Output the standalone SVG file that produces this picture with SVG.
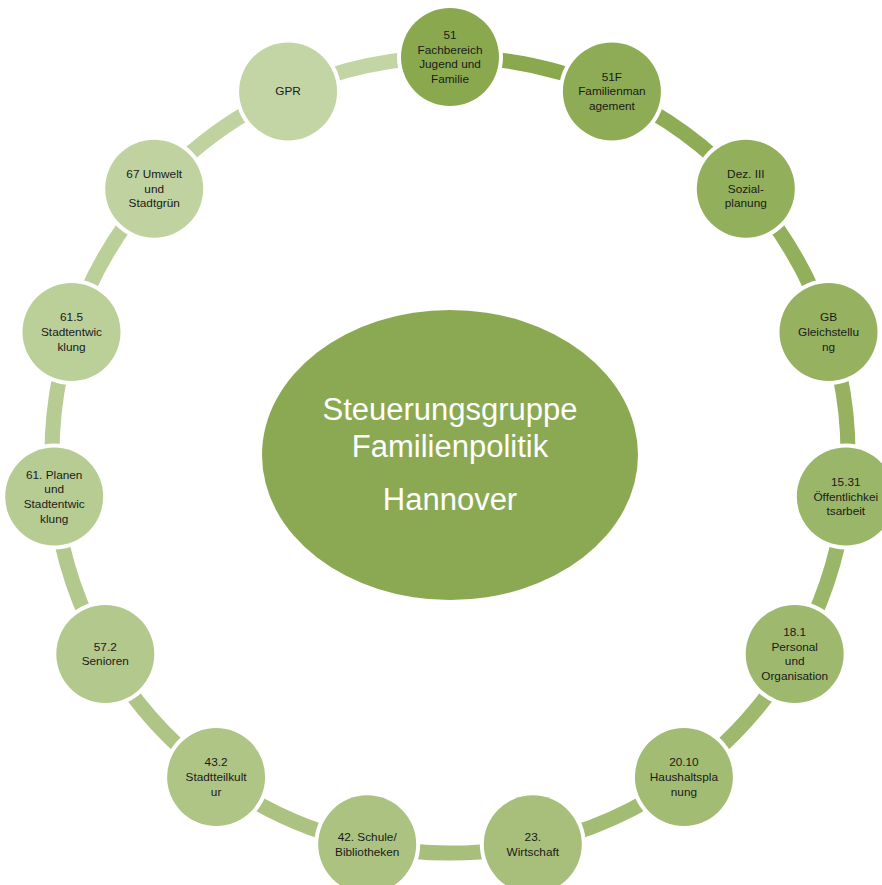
<svg xmlns="http://www.w3.org/2000/svg" width="882" height="885" viewBox="0 0 882 885">
<style>
.c{fill:none;stroke-width:15}
.halo{fill:#ffffff}
.t{font-family:"Liberation Sans",Arial,sans-serif;font-size:11.8px;fill:#1a1a1a;text-anchor:middle}
.ct{font-family:"Liberation Sans",Arial,sans-serif;font-size:31px;fill:#ffffff;text-anchor:middle}
</style>
<rect width="882" height="885" fill="#ffffff"/>
<g id="connectors">
<path class="c" stroke="#8aa94f" d="M450,57 A398,398 0 0 1 611.9,91.4"/>
<path class="c" stroke="#8eac55" d="M611.9,91.4 A398,398 0 0 1 745.8,188.7"/>
<path class="c" stroke="#92af5b" d="M745.8,188.7 A398,398 0 0 1 828.5,332"/>
<path class="c" stroke="#96b261" d="M828.5,332 A398,398 0 0 1 845.8,496.6"/>
<path class="c" stroke="#9ab668" d="M845.8,496.6 A398,398 0 0 1 794.7,654"/>
<path class="c" stroke="#9eb96e" d="M794.7,654 A398,398 0 0 1 683.9,777"/>
<path class="c" stroke="#a2bc74" d="M683.9,777 A398,398 0 0 1 532.8,844.3"/>
<path class="c" stroke="#a7bf7a" d="M532.8,844.3 A398,398 0 0 1 367.2,844.3"/>
<path class="c" stroke="#abc280" d="M367.2,844.3 A398,398 0 0 1 216.1,777"/>
<path class="c" stroke="#afc586" d="M216.1,777 A398,398 0 0 1 105.3,654"/>
<path class="c" stroke="#b3c88c" d="M105.3,654 A398,398 0 0 1 54.2,496.6"/>
<path class="c" stroke="#b7cc93" d="M54.2,496.6 A398,398 0 0 1 71.5,332"/>
<path class="c" stroke="#bbcf99" d="M71.5,332 A398,398 0 0 1 154.2,188.7"/>
<path class="c" stroke="#bfd29f" d="M154.2,188.7 A398,398 0 0 1 288.1,91.4"/>
<path class="c" stroke="#c3d5a5" d="M288.1,91.4 A398,398 0 0 1 450,57"/>
</g>
<g id="center">
<ellipse cx="450" cy="455" rx="188" ry="145" fill="#8ba952"/>
<text class="ct" x="450" y="420">Steuerungsgruppe</text>
<text class="ct" x="450" y="457">Familienpolitik</text>
<text class="ct" x="450" y="510">Hannover</text>
</g>
<g id="n51">
<circle class="halo" cx="450" cy="57" r="53"/>
<circle cx="450" cy="57" r="49" fill="#8aa94f"/>
<text class="t" x="450" y="38.95">51<tspan x="450" dy="14.7">Fachbereich</tspan><tspan x="450" dy="14.7">Jugend und</tspan><tspan x="450" dy="14.7">Familie</tspan></text>
</g>
<g id="n51F">
<circle class="halo" cx="611.9" cy="91.4" r="53"/>
<circle cx="611.9" cy="91.4" r="49" fill="#8eac55"/>
<text class="t" x="611.9" y="80.7">51F<tspan x="611.9" dy="14.7">Familienman</tspan><tspan x="611.9" dy="14.7">agement</tspan></text>
</g>
<g id="nDez">
<circle class="halo" cx="745.8" cy="188.7" r="53"/>
<circle cx="745.8" cy="188.7" r="49" fill="#92af5b"/>
<text class="t" x="745.8" y="178">Dez. III<tspan x="745.8" dy="14.7">Sozial-</tspan><tspan x="745.8" dy="14.7">planung</tspan></text>
</g>
<g id="nGB">
<circle class="halo" cx="828.5" cy="332" r="53"/>
<circle cx="828.5" cy="332" r="49" fill="#96b261"/>
<text class="t" x="828.5" y="321.3">GB<tspan x="828.5" dy="14.7">Gleichstellu</tspan><tspan x="828.5" dy="14.7">ng</tspan></text>
</g>
<g id="n1531">
<circle class="halo" cx="845.8" cy="496.6" r="53"/>
<circle cx="845.8" cy="496.6" r="49" fill="#9ab668"/>
<text class="t" x="845.8" y="485.9">15.31<tspan x="845.8" dy="14.7">Öffentlichkei</tspan><tspan x="845.8" dy="14.7">tsarbeit</tspan></text>
</g>
<g id="n181">
<circle class="halo" cx="794.7" cy="654" r="53"/>
<circle cx="794.7" cy="654" r="49" fill="#9eb96e"/>
<text class="t" x="794.7" y="635.95">18.1<tspan x="794.7" dy="14.7">Personal</tspan><tspan x="794.7" dy="14.7">und</tspan><tspan x="794.7" dy="14.7">Organisation</tspan></text>
</g>
<g id="n2010">
<circle class="halo" cx="683.9" cy="777" r="53"/>
<circle cx="683.9" cy="777" r="49" fill="#a2bc74"/>
<text class="t" x="683.9" y="766.3">20.10<tspan x="683.9" dy="14.7">Haushaltspla</tspan><tspan x="683.9" dy="14.7">nung</tspan></text>
</g>
<g id="n23">
<circle class="halo" cx="532.8" cy="844.3" r="53"/>
<circle cx="532.8" cy="844.3" r="49" fill="#a7bf7a"/>
<text class="t" x="532.8" y="840.95">23.<tspan x="532.8" dy="14.7">Wirtschaft</tspan></text>
</g>
<g id="n42">
<circle class="halo" cx="367.2" cy="844.3" r="53"/>
<circle cx="367.2" cy="844.3" r="49" fill="#abc280"/>
<text class="t" x="367.2" y="840.95">42. Schule/<tspan x="367.2" dy="14.7">Bibliotheken</tspan></text>
</g>
<g id="n432">
<circle class="halo" cx="216.1" cy="777" r="53"/>
<circle cx="216.1" cy="777" r="49" fill="#afc586"/>
<text class="t" x="216.1" y="766.3">43.2<tspan x="216.1" dy="14.7">Stadtteilkult</tspan><tspan x="216.1" dy="14.7">ur</tspan></text>
</g>
<g id="n572">
<circle class="halo" cx="105.3" cy="654" r="53"/>
<circle cx="105.3" cy="654" r="49" fill="#b3c88c"/>
<text class="t" x="105.3" y="650.65">57.2<tspan x="105.3" dy="14.7">Senioren</tspan></text>
</g>
<g id="n61">
<circle class="halo" cx="54.2" cy="496.6" r="53"/>
<circle cx="54.2" cy="496.6" r="49" fill="#b7cc93"/>
<text class="t" x="54.2" y="478.55">61. Planen<tspan x="54.2" dy="14.7">und</tspan><tspan x="54.2" dy="14.7">Stadtentwic</tspan><tspan x="54.2" dy="14.7">klung</tspan></text>
</g>
<g id="n615">
<circle class="halo" cx="71.5" cy="332" r="53"/>
<circle cx="71.5" cy="332" r="49" fill="#bbcf99"/>
<text class="t" x="71.5" y="321.3">61.5<tspan x="71.5" dy="14.7">Stadtentwic</tspan><tspan x="71.5" dy="14.7">klung</tspan></text>
</g>
<g id="n67">
<circle class="halo" cx="154.2" cy="188.7" r="53"/>
<circle cx="154.2" cy="188.7" r="49" fill="#bfd29f"/>
<text class="t" x="154.2" y="178">67 Umwelt<tspan x="154.2" dy="14.7">und</tspan><tspan x="154.2" dy="14.7">Stadtgrün</tspan></text>
</g>
<g id="nGPR">
<circle class="halo" cx="288.1" cy="91.4" r="53"/>
<circle cx="288.1" cy="91.4" r="49" fill="#c3d5a5"/>
<text class="t" x="288.1" y="95.4">GPR</text>
</g>
</svg>
